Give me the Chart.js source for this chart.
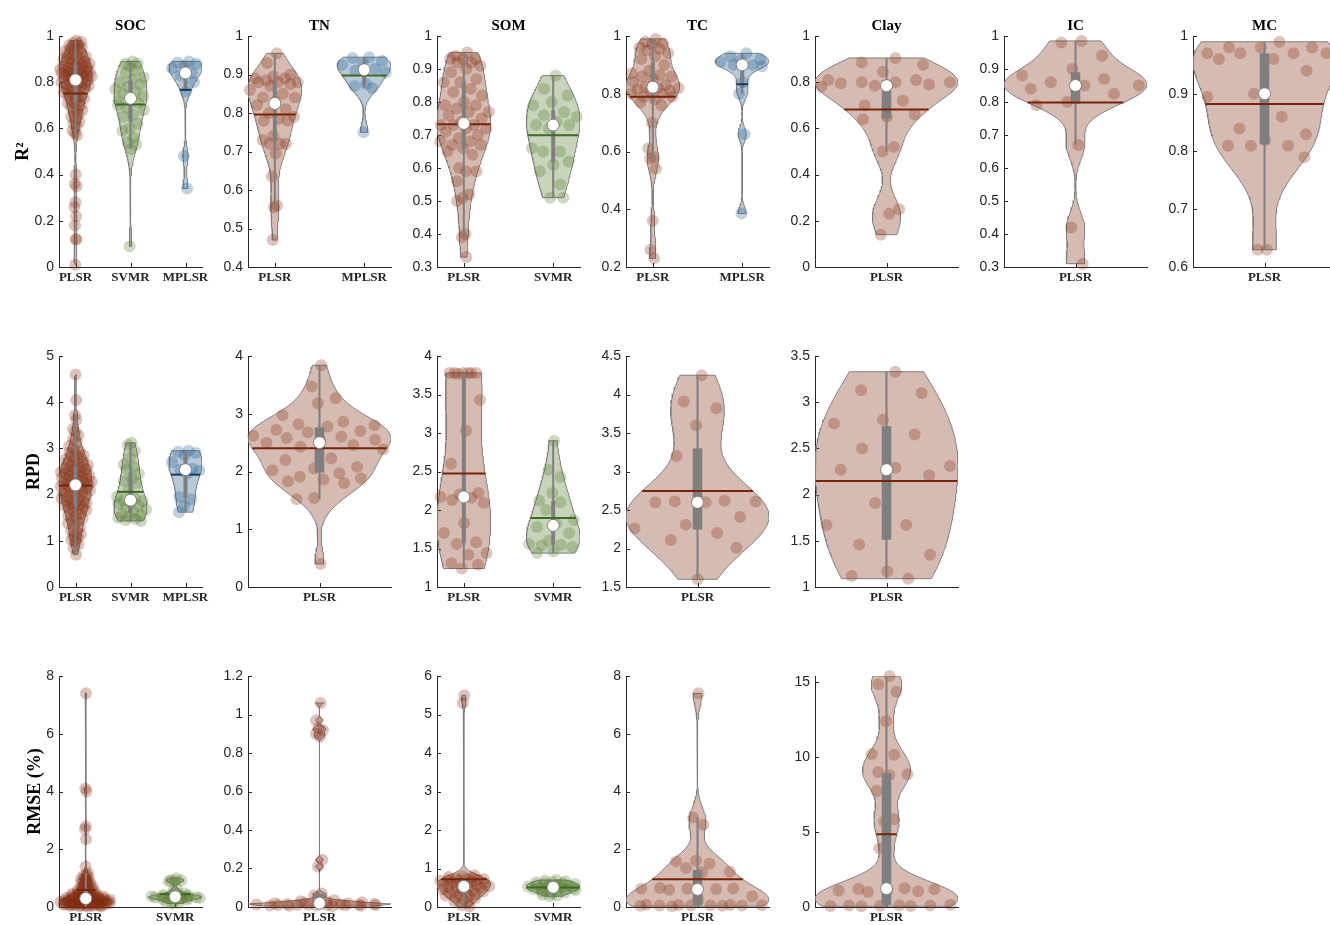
<!DOCTYPE html>
<html lang="en">
<head>
<meta charset="UTF-8">
<title>Violin plots - R2 / RPD / RMSE</title>
<style>
  body { margin: 0; background: #fff; width: 1330px; height: 925px; overflow: hidden; position: relative; }
  canvas { position: absolute; }
</style>
<script src="https://cdn.jsdelivr.net/npm/chart.js@4.4.1/dist/chart.umd.min.js"></script>
</head>
<body>
<script>
// ---- data ----
const properties = ['SOC', 'TN', 'SOM', 'TC', 'Clay', 'IC', 'MC'];
const metrics = ['R²', 'RPD', 'RMSE (%)'];

// R2
const r2SocPlsr = [0.40,0.36,0.35,0.28,0.26,0.22,0.18,0.12,0.12,0.01,
  0.57,0.58,0.59,0.61,0.62,0.63,0.64,0.65,0.66,0.67,0.68,0.68,0.69,0.70,
  0.71,0.71,0.72,0.72,0.73,0.73,0.74,0.74,0.75,
  0.755,0.76,0.76,0.77,0.77,0.775,0.78,0.78,0.785,0.79,0.79,0.795,0.80,0.80,
  0.805,0.81,0.81,0.815,0.82,0.82,0.82,0.825,0.83,0.83,0.83,0.835,0.84,0.84,0.84,0.845,0.85,0.85,0.85,0.85,
  0.855,0.86,0.86,0.865,0.87,0.87,0.875,0.88,0.88,0.885,0.89,0.89,0.895,0.90,0.90,
  0.905,0.91,0.915,0.92,0.925,0.93,0.935,0.94,0.945,
  0.95,0.955,0.96,0.965,0.97,0.975,0.98];
const r2SocSvmr = [0.89,0.88,0.88,0.87,0.70,0.85,0.84,0.82,0.81,0.80,0.79,0.78,0.77,0.76,0.75,0.74,
  0.73,0.72,0.71,0.69,0.68,0.66,0.65,0.62,0.60,0.59,0.56,0.54,0.53,0.51,0.09];
const r2SocMplsr = [0.89,0.885,0.88,0.87,0.86,0.84,0.83,0.80,0.76,0.48,0.34];
const r2TnPlsr = [0.955,0.93,0.90,0.895,0.89,0.89,0.885,0.88,0.88,0.88,0.875,0.87,0.86,0.85,0.84,0.84,0.83,
  0.82,0.81,0.80,0.79,0.785,0.78,0.78,0.74,0.73,0.72,0.72,0.72,0.695,0.635,0.56,0.555,0.47];
const r2TnMplsr = [0.945,0.943,0.935,0.93,0.925,0.915,0.91,0.905,0.875,0.87,0.865,0.75];
const r2SomPlsr = [0.95,0.94,0.93,0.93,0.93,0.92,0.92,0.91,0.90,0.89,0.87,0.86,0.86,0.84,0.83,0.82,0.80,
  0.79,0.79,0.78,0.77,0.77,0.76,0.75,0.74,0.73,0.73,0.73,0.72,0.72,0.71,0.70,0.69,0.68,0.68,0.67,0.67,
  0.66,0.65,0.64,0.60,0.59,0.59,0.56,0.52,0.51,0.50,0.40,0.39,0.33];
const r2SomSvmr = [0.88,0.84,0.82,0.80,0.79,0.77,0.76,0.755,0.74,0.73,0.73,0.72,0.66,0.65,0.65,0.62,0.61,
  0.59,0.55,0.51,0.51];
const r2TcPlsr = [0.99,0.98,0.975,0.97,0.96,0.955,0.95,0.94,0.93,0.92,0.90,0.88,0.87,0.865,0.86,0.86,0.85,
  0.84,0.83,0.825,0.82,0.82,0.815,0.81,0.81,0.80,0.80,0.79,0.79,0.78,0.77,0.76,0.70,0.61,0.58,0.575,
  0.54,0.36,0.26,0.23];
const r2TcMplsr = [0.94,0.93,0.92,0.915,0.91,0.90,0.90,0.895,0.84,0.80,0.66,0.385];
const r2ClayPlsr = [0.905,0.885,0.875,0.845,0.81,0.81,0.80,0.80,0.80,0.795,0.79,0.785,0.78,0.72,0.70,
  0.66,0.65,0.64,0.52,0.50,0.25,0.23,0.14];
const r2IcPlsr = [0.985,0.98,0.94,0.90,0.88,0.87,0.86,0.85,0.85,0.84,0.825,0.80,0.79,0.67,0.42,0.31];
const r2McPlsr = [0.99,0.98,0.98,0.98,0.97,0.97,0.97,0.97,0.96,0.96,0.94,0.90,0.895,0.86,0.84,0.83,
  0.82,0.81,0.81,0.81,0.79,0.63,0.63];

// RPD
const rpdSocPlsr = [0.70,0.85,0.92,0.98,1.02,1.06,1.10,1.14,1.18,1.22,1.28,1.33,1.38,1.42,1.46,1.49,
  1.52,1.55,1.58,1.63,1.66,1.68,1.70,1.72,1.74,
  1.76,1.78,1.80,1.82,1.84,1.86,1.88,1.90,1.92,1.94,1.96,1.98,
  2.01,2.03,2.05,2.07,2.09,2.10,2.12,2.14,2.16,2.18,2.19,2.20,2.22,2.23,2.24,
  2.26,2.27,2.28,2.30,2.32,2.34,2.35,2.37,2.38,2.39,2.41,2.43,2.45,2.46,2.48,2.49,
  2.51,2.53,2.55,2.56,2.58,2.60,2.62,2.64,2.67,2.69,2.71,2.73,
  2.76,2.79,2.82,2.85,2.88,2.91,2.94,2.97,3.05,3.12,3.20,3.28,3.36,3.42,3.62,3.72,4.05,4.60];
const rpdSocSvmr = [3.12,3.08,2.95,2.80,2.65,2.60,2.55,2.45,2.35,2.30,2.25,2.10,1.96,1.92,1.88,1.86,
  1.82,1.80,1.76,1.72,1.68,1.62,1.58,1.55,1.52,1.50,1.47,1.45,1.43];
const rpdSocMplsr = [2.95,2.93,2.90,2.85,2.70,2.56,2.54,2.52,2.45,1.95,1.90,1.75,1.62];
const rpdTnPlsr = [3.84,3.47,3.27,3.18,2.98,2.86,2.82,2.80,2.78,2.72,2.70,2.68,2.62,2.60,2.58,2.55,2.53,
  2.50,2.46,2.43,2.38,2.23,2.20,2.08,2.05,2.02,1.97,1.91,1.88,1.86,1.83,1.80,1.54,1.52,0.40];
const rpdSomPlsr = [3.78,3.78,3.78,3.78,3.78,3.78,3.77,3.43,3.03,2.60,2.22,2.20,2.17,2.16,2.13,2.09,
  1.83,1.70,1.58,1.56,1.44,1.42,1.31,1.29,1.24];
const rpdSomSvmr = [2.90,2.52,2.43,2.22,2.12,2.10,2.00,1.87,1.82,1.78,1.70,1.60,1.56,1.55,1.54,1.52,1.46,1.44];
const rpdTcPlsr = [4.25,3.91,3.82,3.60,3.20,2.62,2.61,2.61,2.60,2.60,2.41,2.31,2.26,2.20,2.11,2.01,1.60];
const rpdClayPlsr = [3.33,3.13,3.10,2.81,2.77,2.65,2.50,2.31,2.29,2.27,2.21,1.91,1.67,1.67,1.46,1.35,
  1.17,1.12,1.09];

// RMSE (%)
const rmseSocPlsr = [7.40,4.10,4.00,2.80,2.70,2.35,1.40,1.18,1.12,1.08,1.04,1.00,0.97,0.93,0.90,0.87,
  0.84,0.81,0.78,0.75,0.72,0.69,0.66,0.64,0.62,0.60,0.58,0.56,0.54,0.52,0.50,0.48,0.46,0.45,0.44,0.43,
  0.42,0.41,0.39,0.38,0.37,0.36,0.35,0.34,0.33,0.32,0.31,0.30,0.30,0.29,0.28,0.28,0.27,0.26,0.26,0.25,
  0.24,0.24,0.23,0.22,0.22,0.21,0.20,0.19,0.19,0.18,0.18,0.17,0.17,0.16,0.16,0.15,0.15,0.14,0.14,0.13,
  0.13,0.12,0.12,0.11,0.11,0.10,0.10,0.09,0.09,0.08,0.08,0.07,0.07,0.06,0.06,0.05,0.05,0.04,0.04,0.03,
  0.02,0.01];
const rmseSocSvmr = [1.00,0.93,0.92,0.90,0.88,0.62,0.55,0.48,0.45,0.42,0.40,0.38,0.37,0.36,0.35,0.34,
  0.33,0.33,0.32,0.32,0.31,0.30,0.28,0.25,0.20,0.16,0.14,0.12];
const rmseTnPlsr = [0.005,0.006,0.007,0.008,0.008,0.009,0.010,0.010,0.010,0.011,0.012,0.012,0.013,0.014,
  0.015,0.016,0.018,0.020,0.020,0.022,0.025,0.028,0.030,0.035,0.040,0.060,0.070,0.210,0.245,
  0.885,0.900,0.920,0.930,0.970,1.060];
const rmseSomPlsr = [5.50,5.30,0.82,0.80,0.78,0.76,0.74,0.73,0.72,0.71,0.70,0.69,0.68,0.66,0.64,0.62,
  0.60,0.58,0.56,0.55,0.54,0.53,0.52,0.50,0.48,0.46,0.44,0.42,0.40,0.38,0.36,0.34,0.32,0.30,0.28,0.25,
  0.22,0.19,0.15,0.10,0.05,0.01];
const rmseSomSvmr = [0.70,0.68,0.67,0.65,0.64,0.62,0.61,0.60,0.58,0.57,0.56,0.55,0.53,0.52,0.50,0.49,
  0.48,0.47,0.46,0.45,0.44,0.42,0.40,0.38,0.35,0.32,0.30,0.28];
const rmseTcPlsr = [7.40,3.10,2.85,1.60,1.58,1.50,1.35,1.22,1.20,0.66,0.64,0.63,0.63,0.62,0.60,0.36,
  0.25,0.08,0.07,0.07,0.06,0.06,0.05,0.05,0.05,0.04,0.04,0.03];
const rmseClayPlsr = [15.40,14.85,14.35,12.40,10.20,10.15,9.00,8.85,8.80,7.75,5.85,5.70,3.90,1.25,1.20,
  1.18,1.15,1.10,1.05,1.00,0.15,0.12,0.10,0.10,0.08,0.07,0.06,0.05];

// tick labels per panel
const r2TicksSoc = [0, 0.2, 0.4, 0.6, 0.8, 1];
const r2TicksTn = [0.4, 0.5, 0.6, 0.7, 0.8, 0.9, 1];
const r2TicksSom = [0.3, 0.4, 0.5, 0.6, 0.7, 0.8, 0.9, 1];
const r2TicksTc = [0.2, 0.4, 0.6, 0.8, 1];
const r2TicksClay = [0, 0.2, 0.4, 0.6, 0.8, 1];
const r2TicksIc = [0.3, 0.4, 0.5, 0.6, 0.7, 0.8, 0.9, 1];
const r2TicksMc = [0.6, 0.7, 0.8, 0.9, 1];
const rpdTicksSoc = [0, 1, 2, 3, 4, 5];
const rpdTicksTn = [0, 1, 2, 3, 4];
const rpdTicksSom = [1, 1.5, 2, 2.5, 3, 3.5, 4];
const rpdTicksTc = [1.5, 2, 2.5, 3, 3.5, 4, 4.5];
const rpdTicksClay = [1, 1.5, 2, 2.5, 3, 3.5];
const rmseTicksSoc = [0, 2, 4, 6, 8];
const rmseTicksTn = [0, 0.2, 0.4, 0.6, 0.8, 1, 1.2];
const rmseTicksSom = [0, 1, 2, 3, 4, 5, 6];
const rmseTicksTc = [0, 2, 4, 6, 8];
const rmseTicksClay = [0, 5, 10, 15];
const rmseClayTop = 15.4;

const panels = [
  { row: 0, col: 0, cats: ['PLSR', 'SVMR', 'MPLSR'], series: [r2SocPlsr, r2SocSvmr, r2SocMplsr], ticks: r2TicksSoc },
  { row: 0, col: 1, cats: ['PLSR', 'MPLSR'], series: [r2TnPlsr, r2TnMplsr], ticks: r2TicksTn },
  { row: 0, col: 2, cats: ['PLSR', 'SVMR'], series: [r2SomPlsr, r2SomSvmr], ticks: r2TicksSom },
  { row: 0, col: 3, cats: ['PLSR', 'MPLSR'], series: [r2TcPlsr, r2TcMplsr], ticks: r2TicksTc },
  { row: 0, col: 4, cats: ['PLSR'], series: [r2ClayPlsr], ticks: r2TicksClay },
  { row: 0, col: 5, cats: ['PLSR'], series: [r2IcPlsr], ticks: r2TicksIc },
  { row: 0, col: 6, cats: ['PLSR'], series: [r2McPlsr], ticks: r2TicksMc },
  { row: 1, col: 0, cats: ['PLSR', 'SVMR', 'MPLSR'], series: [rpdSocPlsr, rpdSocSvmr, rpdSocMplsr], ticks: rpdTicksSoc },
  { row: 1, col: 1, cats: ['PLSR'], series: [rpdTnPlsr], ticks: rpdTicksTn },
  { row: 1, col: 2, cats: ['PLSR', 'SVMR'], series: [rpdSomPlsr, rpdSomSvmr], ticks: rpdTicksSom },
  { row: 1, col: 3, cats: ['PLSR'], series: [rpdTcPlsr], ticks: rpdTicksTc },
  { row: 1, col: 4, cats: ['PLSR'], series: [rpdClayPlsr], ticks: rpdTicksClay },
  { row: 2, col: 0, cats: ['PLSR', 'SVMR'], series: [rmseSocPlsr, rmseSocSvmr], ticks: rmseTicksSoc },
  { row: 2, col: 1, cats: ['PLSR'], series: [rmseTnPlsr], ticks: rmseTicksTn },
  { row: 2, col: 2, cats: ['PLSR', 'SVMR'], series: [rmseSomPlsr, rmseSomSvmr], ticks: rmseTicksSom },
  { row: 2, col: 3, cats: ['PLSR'], series: [rmseTcPlsr], ticks: rmseTicksTc },
  { row: 2, col: 4, cats: ['PLSR'], series: [rmseClayPlsr], ticks: rmseTicksClay, top: rmseClayTop }
];

// ---- look ----
const SERIF = '"Liberation Serif", "Times New Roman", serif';
const SANS = '"Liberation Sans", Arial, sans-serif';
const AXIS = '#262626';
const EDGE = '#7f7f7f';
const METHOD_STYLE = {
  PLSR: { rgb: [128, 44, 14], mean: '#7a2306' },
  SVMR: { rgb: [80, 120, 40], mean: '#3d6b1f' },
  MPLSR: { rgb: [30, 90, 140], mean: '#0b3d66' }
};
const meanOverride = { '0-1-MPLSR': '#3d6b1f' }; // TN MPLSR mean drawn green in the figure

const PLOT_LEFT = [59, 248, 437, 626, 815, 1004, 1193];
const ROW_TOP = [36, 356, 676];
const PLOT_W = 143, PLOT_H = 231;
const SIDE = 59, TOP_H = 40, BOTTOM_H = 24;
const Y_TITLE_PAD = [13, 24, 25];
const VIOLIN_HALF = 0.3;

const rgba = (c, a) => `rgba(${c[0]},${c[1]},${c[2]},${a})`;

// matlab-style quantile
function quantile(sorted, p) {
  const n = sorted.length;
  const pos = n * p + 0.5;
  if (pos <= 1) return sorted[0];
  if (pos >= n) return sorted[n - 1];
  const i = Math.floor(pos);
  return sorted[i - 1] + (pos - i) * (sorted[i] - sorted[i - 1]);
}

function violinStats(vals) {
  const s = [...vals].sort((a, b) => a - b);
  const n = s.length;
  const q1 = quantile(s, 0.25), med = quantile(s, 0.5), q3 = quantile(s, 0.75);
  const iqr = q3 - q1;
  let lo = q1 - 1.5 * iqr, hi = q3 + 1.5 * iqr;
  lo = Math.max(lo, Math.min(...s.filter(v => v > lo)));
  hi = Math.min(hi, Math.max(...s.filter(v => v < hi)));
  const mean = s.reduce((a, b) => a + b, 0) / n;
  // ksdensity default bandwidth
  const dev = s.map(v => Math.abs(v - med)).sort((a, b) => a - b);
  let sig = quantile(dev, 0.5) / 0.6745;
  if (sig <= 0) sig = s[n - 1] - s[0];
  const bw = sig * Math.pow(4 / (3 * n), 0.2);
  const ys = [], dens = [];
  for (let k = 0; k < 100; k++) {
    const y = s[0] + (s[n - 1] - s[0]) * k / 99;
    let d = 0;
    for (const v of s) { const z = (y - v) / bw; d += Math.exp(-0.5 * z * z); }
    ys.push(y); dens.push(d);
  }
  const dmax = Math.max(...dens);
  const half = dens.map(d => VIOLIN_HALF * d / dmax);
  return { q1, med, q3, lo, hi, mean, ys, half };
}

function halfAt(st, y) {
  const ys = st.ys;
  if (y <= ys[0]) return st.half[0];
  for (let k = 1; k < ys.length; k++) {
    if (y <= ys[k]) {
      const t = (y - ys[k - 1]) / (ys[k] - ys[k - 1]);
      return st.half[k - 1] + t * (st.half[k] - st.half[k - 1]);
    }
  }
  return st.half[ys.length - 1];
}

// spread of the scatter inside the violin (position only)
const jitter = k => (((k + 1) * 0.6180339887) % 1) * 2 - 1;

const inwardTicks = {
  id: 'inwardTicks',
  beforeDatasetsDraw(chart) {
    const { ctx, chartArea: a, scales: { x, y } } = chart;
    ctx.save();
    ctx.strokeStyle = AXIS;
    ctx.lineWidth = 1;
    ctx.beginPath();
    y.ticks.forEach(t => {
      const py = Math.round(y.getPixelForValue(t.value)) + 0.5;
      ctx.moveTo(a.left, py); ctx.lineTo(a.left + 4, py);
    });
    x.ticks.forEach(t => {
      const px = Math.round(x.getPixelForValue(t.value)) + 0.5;
      ctx.moveTo(px, a.bottom); ctx.lineTo(px, a.bottom - 4);
    });
    ctx.stroke();
    ctx.restore();
  }
};

function buildDatasets(p) {
  const n = p.cats.length;
  const pxPerUnit = PLOT_W / (n - 1 + 2 * VIOLIN_HALF);
  const boxPx = Math.max(4, 0.04 * pxPerUnit);
  const datasets = [];
  p.series.forEach((vals, i) => {
    const c = i + 1;
    const m = p.cats[i];
    const sty = METHOD_STYLE[m];
    const st = violinStats(vals);

    const outline = [];
    st.ys.forEach((y, k) => outline.push({ x: c + st.half[k], y }));
    for (let k = st.ys.length - 1; k >= 0; k--) outline.push({ x: c - st.half[k], y: st.ys[k] });
    outline.push({ x: c + st.half[0], y: st.ys[0] });
    datasets.push({
      data: outline, showLine: true, fill: 'shape',
      backgroundColor: rgba(sty.rgb, 0.32), borderColor: EDGE, borderWidth: 1,
      pointRadius: 0, order: 50
    });

    datasets.push({
      data: vals.map((v, k) => ({ x: c + jitter(k) * halfAt(st, v), y: v })),
      pointRadius: 6, pointBackgroundColor: rgba(sty.rgb, 0.28), pointBorderWidth: 0,
      order: 40, clip: false
    });

    datasets.push({
      data: [{ x: c, y: st.lo }, { x: c, y: st.hi }], showLine: true,
      borderColor: EDGE, borderWidth: 2, pointRadius: 0, order: 30
    });

    datasets.push({
      data: [{ x: c, y: st.q1 }, { x: c, y: st.q3 }], showLine: true,
      borderColor: EDGE, borderWidth: boxPx, borderCapStyle: 'butt', pointRadius: 0, order: 20
    });

    const hm = halfAt(st, st.mean);
    datasets.push({
      data: [{ x: c - hm, y: st.mean }, { x: c + hm, y: st.mean }], showLine: true,
      borderColor: meanOverride[p.row + '-' + p.col + '-' + m] || sty.mean,
      borderWidth: 2, pointRadius: 0, order: 10
    });

    datasets.push({
      data: [{ x: c, y: st.med }],
      pointRadius: 6, pointBackgroundColor: '#ffffff', pointBorderColor: EDGE, pointBorderWidth: 1,
      order: 0, clip: false
    });
  });
  return datasets;
}

function drawPanel(p) {
  const canvas = document.createElement('canvas');
  canvas.width = SIDE + PLOT_W + SIDE;
  canvas.height = TOP_H + PLOT_H + BOTTOM_H;
  canvas.style.left = (PLOT_LEFT[p.col] - SIDE) + 'px';
  canvas.style.top = (ROW_TOP[p.row] - TOP_H) + 'px';
  document.body.appendChild(canvas);

  const n = p.cats.length;
  const yMin = p.ticks[0];
  const yMax = p.top !== undefined ? p.top : p.ticks[p.ticks.length - 1];

  new Chart(canvas, {
    type: 'scatter',
    data: { datasets: buildDatasets(p) },
    options: {
      responsive: false,
      animation: false,
      devicePixelRatio: 1,
      events: [],
      layout: { padding: { top: p.row === 0 ? 0 : TOP_H, right: SIDE, left: 0, bottom: 0 } },
      plugins: {
        legend: { display: false },
        tooltip: { enabled: false },
        title: {
          display: p.row === 0,
          text: properties[p.col],
          fullSize: false,
          color: '#000',
          font: { family: SERIF, size: 15, weight: 'bold' },
          padding: { top: 21, bottom: 1 }
        }
      },
      scales: {
        x: {
          type: 'linear',
          min: 1 - VIOLIN_HALF,
          max: n + VIOLIN_HALF,
          afterBuildTicks: s => { s.ticks = p.cats.map((_, i) => ({ value: i + 1 })); },
          afterFit: s => { s.height = BOTTOM_H; },
          grid: { display: false, drawTicks: false },
          border: { display: true, color: AXIS, width: 1 },
          ticks: {
            callback: v => p.cats[Math.round(v) - 1],
            autoSkip: false, maxRotation: 0, padding: 3,
            color: AXIS,
            font: { family: SERIF, size: 13, weight: 'bold' }
          }
        },
        y: {
          type: 'linear',
          min: yMin,
          max: yMax,
          afterBuildTicks: s => { s.ticks = p.ticks.map(v => ({ value: v })); },
          afterFit: s => { s.width = SIDE; },
          grid: { display: false, drawTicks: false },
          border: { display: true, color: AXIS, width: 1 },
          ticks: {
            callback: v => String(v),
            padding: 5,
            color: AXIS,
            font: { family: SANS, size: 14 }
          },
          title: {
            display: p.col === 0,
            text: metrics[p.row],
            color: '#000',
            font: { family: SERIF, size: 18, weight: 'bold' },
            padding: { top: Y_TITLE_PAD[p.row], bottom: 0 }
          }
        }
      }
    },
    plugins: [inwardTicks]
  });
}

panels.forEach(drawPanel);
</script>
</body>
</html>
